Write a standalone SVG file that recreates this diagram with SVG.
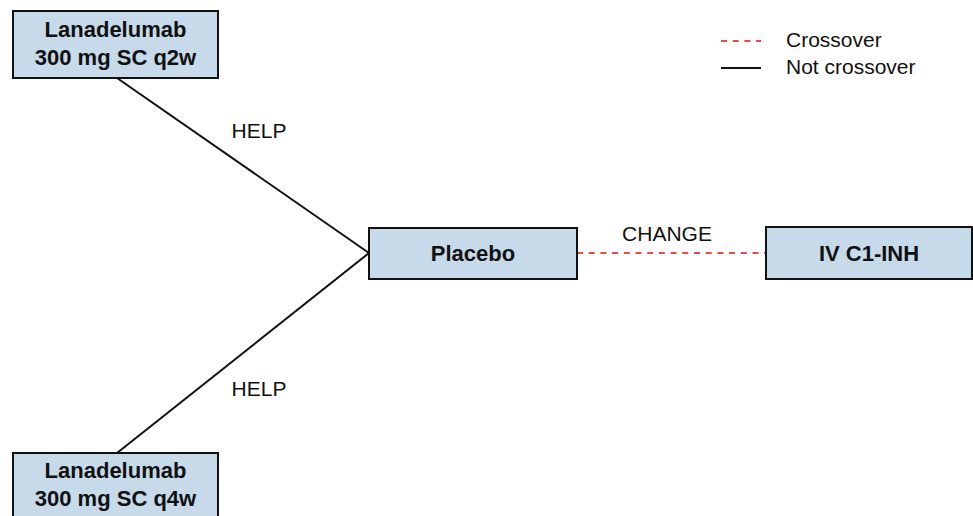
<svg xmlns="http://www.w3.org/2000/svg" width="973" height="516" viewBox="0 0 973 516">
<style>
.box{fill:#c6daea;stroke:#111;stroke-width:2}
.bt{font-family:"Liberation Sans",Arial,sans-serif;font-weight:bold;font-size:22px;fill:#111;text-anchor:middle}
.lt{font-family:"Liberation Sans",Arial,sans-serif;font-size:21px;fill:#111}
.solid{stroke:#111;stroke-width:2;fill:none}
.dash{stroke:#ee4a4a;stroke-width:2;stroke-dasharray:6 5.7;fill:none}
</style>
<rect width="973" height="516" fill="#fff"/>
<g id="connectors">
<line class="solid" x1="117" y1="78" x2="369" y2="253"/>
<line class="solid" x1="369" y1="253" x2="117" y2="453"/>
<line class="dash" x1="577" y1="253" x2="766" y2="253"/>
<text class="lt" x="259" y="138" text-anchor="middle">HELP</text>
<text class="lt" x="259" y="396" text-anchor="middle">HELP</text>
<text class="lt" x="667" y="241" text-anchor="middle">CHANGE</text>
</g>
<g id="node-q2w">
<rect class="box" x="13" y="11" width="205" height="67"/>
<text class="bt" x="115.5" y="37">Lanadelumab</text>
<text class="bt" x="115.5" y="65">300 mg SC q2w</text>
</g>
<g id="node-q4w">
<rect class="box" x="13" y="453" width="205" height="75"/>
<text class="bt" x="115.5" y="478">Lanadelumab</text>
<text class="bt" x="115.5" y="506">300 mg SC q4w</text>
</g>
<g id="node-placebo">
<rect class="box" x="369" y="228" width="208" height="51"/>
<text class="bt" x="473" y="261">Placebo</text>
</g>
<g id="node-ivc1inh">
<rect class="box" x="766" y="227" width="206" height="52"/>
<text class="bt" x="869" y="261">IV C1-INH</text>
</g>
<g id="legend">
<line class="dash" x1="721" y1="41" x2="761" y2="41"/>
<line class="solid" x1="721" y1="68" x2="761" y2="68"/>
<text class="lt" x="786" y="47">Crossover</text>
<text class="lt" x="786" y="74">Not crossover</text>
</g>
</svg>
